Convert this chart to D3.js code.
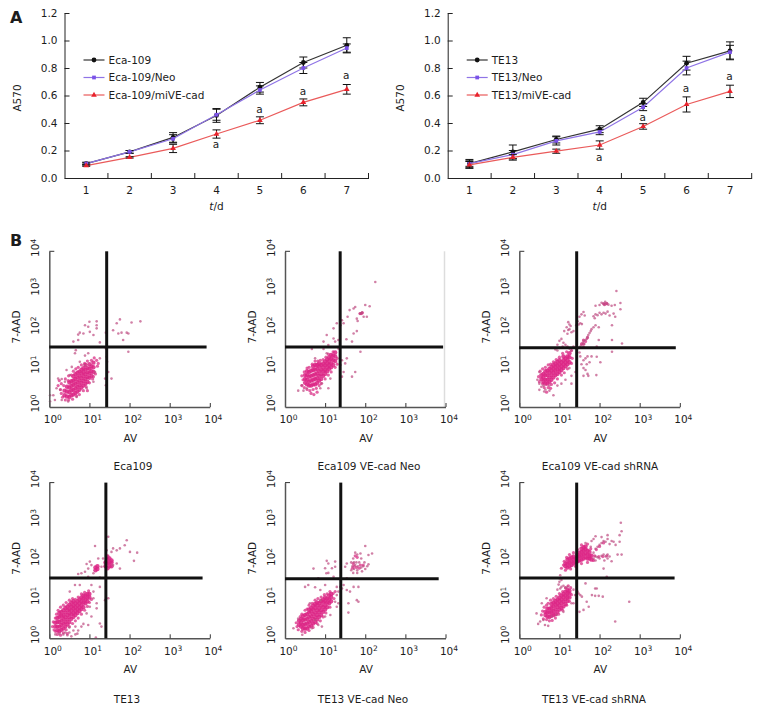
<!DOCTYPE html>
<html>
<head>
<meta charset="utf-8">
<script src="https://cdn.jsdelivr.net/npm/d3@7"></script>
<style>
body { margin: 0; background: #fff; }
text { font-family: "DejaVu Sans", Verdana, sans-serif; fill: #1c1c1c; }
</style>
</head>
<body>
<div id="chart"></div>
<script>
const days = ["1", "2", "3", "4", "5", "6", "7"];
const a570Ticks = [0, 0.2, 0.4, 0.6, 0.8, 1.0, 1.2];

// panel A, left
const eca109 = [0.105, 0.19, 0.295, 0.455, 0.66, 0.84, 0.965];
const eca109Err = [0.01, 0.01, 0.035, 0.05, 0.035, 0.04, 0.055];
const eca109Neo = [0.105, 0.19, 0.285, 0.46, 0.64, 0.80, 0.945];
const eca109NeoErr = [0.005, 0.01, 0.03, 0.04, 0.03, 0.04, 0.03];
const eca109Mi = [0.09, 0.15, 0.215, 0.32, 0.42, 0.55, 0.645];
const eca109MiErr = [0.005, 0.005, 0.03, 0.03, 0.025, 0.025, 0.035];
const eca109Sig = [[3, 0.247], [4, 0.50], [5, 0.633], [6, 0.749]];

// panel A, right
const te13 = [0.105, 0.19, 0.28, 0.355, 0.55, 0.835, 0.925];
const te13Err = [0.03, 0.05, 0.025, 0.025, 0.03, 0.05, 0.065];
const te13Neo = [0.105, 0.17, 0.27, 0.335, 0.515, 0.80, 0.915];
const te13NeoErr = [0.02, 0.03, 0.03, 0.02, 0.025, 0.05, 0.05];
const te13Mi = [0.095, 0.15, 0.195, 0.24, 0.375, 0.535, 0.63];
const te13MiErr = [0.025, 0.02, 0.015, 0.03, 0.02, 0.055, 0.045];
const te13Sig = [[3, 0.153], [4, 0.444], [5, 0.655], [6, 0.742]];

const decades = [0, 1, 2, 3, 4];

// panel B, values are log10 of AV and 7-AAD
// dense part of each cloud: [log AV, log 7-AAD, log 7-AAD, ...]
const eca109Core = [
  [.38,.3,.42],[.44,.27,.4,.52],[.5,.26,.38,.5,.63],[.55,.3,.43,.54,.66],[.6,.32,.44,.57,.68,.79],
  [.65,.36,.48,.6,.72,.84],[.7,.4,.52,.64,.76,.88],[.75,.44,.56,.68,.8,.91],[.8,.5,.62,.74,.86,.96],
  [.85,.55,.67,.79,.9,1.0],[.9,.6,.72,.84,.96,1.08],[.95,.65,.77,.89,1.0],[1.0,.75,.87,.98,1.1],
  [1.05,.8,.92,1.04],[1.1,.9,1.02,1.14]
];
const eca109Fringe = [
  [.28,.45],[.3,.6],[.36,.55],[.4,.72],[.47,.68],[.48,.8],[.55,.82],[.6,.92],[.66,.98],[.72,1.02],[.8,1.08],[.88,1.12],[.95,1.18],[1.05,1.2],[1.12,1.26],[1.18,1.2],[1.2,1.05],
  [1.15,.85],[1.08,.72],[1,.62],[.92,.52],[.85,.42],[.75,.32],[.68,.28],[.58,.2],[.48,.18],[.4,.18],[.33,.25],[.3,.35],[.22,.55],[.25,.68],[1.22,1.12],[1.1,.78],[.95,.42]
];
const eca109Sparse = [
  [1,2.19],[1.18,2.2],[1.18,2.1],[.97,2.06],[1.01,1.93],[.76,1.91],[.72,1.86],[.85,1.89],[1.1,1.85],[.6,1.68],[.72,1.72],[1.26,1.66],[1.18,2.02],[.89,2.1],
  [1.76,2.25],[1.68,2.15],[2.05,2.17],[2.27,2.2],[1.59,1.97],[1.72,1.89],[1.93,1.91],[1.97,1.89],[1.84,1.72],[1.8,1.91],[1.41,1.91],
  [.66,1.46],[.64,1.38],[.97,1.38],[.89,1.32],[1.43,1.29],[1.41,1.5],[1.97,1.42],
  [1.47,.9],[1.55,.73],[1.39,.73],[1.41,.56],[1.44,1.16],
  [.02,.3],[.02,.14],[.22,.73],[.31,.72],[.43,.95],[.56,1.03],[.76,1.16],[.14,.18],[.1,.3],[.27,.44],[.31,.18],[.47,.14],[.68,.26],[.93,.48],[1.1,.65],[1.14,.9],[.18,.48],[.39,.65],[.51,.82],[.89,1.08],[1.26,1.25]
];
const eca109NeoCore = [
  [.5,.62,.72,.82],[.55,.58,.7,.82,.92],[.6,.55,.65,.78,.9],[.65,.55,.68,.8,.93],[.7,.58,.7,.82,.95,1.05],
  [.75,.58,.72,.84,.96,1.08],[.8,.62,.74,.86,.98,1.08],[.85,.68,.8,.92,1.04,1.12],[.9,.72,.84,.96,1.08],
  [.95,.8,.92,1.02,1.12],[1.0,.85,.95,1.07,1.17],[1.05,.92,1.02,1.12,1.22],[1.1,.98,1.08,1.18,1.28],
  [1.15,1.02,1.12,1.24,1.34],[1.2,1.08,1.2,1.32],[1.25,1.18,1.3,1.4]
];
const eca109NeoFringe = [
  [.42,.55],[.45,.7],[.42,.8],[.48,.9],[.55,1.0],[.6,1.02],[.68,1.1],[.75,1.18],[.82,1.18],[.88,1.2],[.95,1.22],[1.02,1.28],[1.08,1.36],[1.2,1.42],[1.3,1.25],[1.3,1.1],
  [1.25,1.02],[1.15,.9],[1.08,.82],[1,.72],[.9,.6],[.85,.55],[.78,.48],[.7,.45],[.62,.42],[.55,.45],[.48,.5],[.8,.38],[.65,.35],[.72,.32],[1.9,2.4],[1.93,2.42],[1.87,2.4]
];
const eca109NeoSparse = [
  [2.25,3.21],[2,2.62],[2.11,2.59],[1.75,2.57],[1.71,2.53],[1.61,2.49],[1.56,2.32],[1.87,2.4],[1.92,2.43],[1.9,2.41],[1.96,2.32],[2.04,2.32],[1.79,2.27],[1.81,2.21],
  [1.42,2.23],[1.38,2.1],[1.29,2.15],[1.46,2.15],[1.71,1.89],[1.79,1.95],[1.21,2.02],[1.04,1.85],[1.21,1.76],[1.33,1.72],[1.53,1.74],[.96,1.68],[1.08,1.59],[1.25,1.68],[1.67,1.68],
  [1.88,1.42],[.67,1.49],[.96,1.49],[1.33,1.5],[1.54,1.25],[1.42,1.2],[1.5,1.12],[1.38,1.08],[1.46,.9],[1.75,.9],[1.67,.78],[1.42,.78],
  [.33,.42],[.46,.42],[.42,.56],[.54,.48],[.88,.48],[1.08,.48],[.92,.61],[.75,1.25],[1.04,1.38],[1.13,.73]
];
const eca109ShCore = [
  [.55,.72,.82],[.6,.65,.75,.85],[.65,.6,.7,.82,.92],[.7,.6,.7,.82,.93],[.75,.65,.76,.88,.98],[.8,.7,.82,.93,1.03],
  [.85,.76,.88,.98,1.08],[.9,.82,.93,1.03,1.12],[.95,.85,.96,1.06,1.16],[1.0,.9,1.0,1.1,1.2],[1.05,.95,1.05,1.15],
  [1.1,1.0,1.1,1.2,1.3],[1.15,1.05,1.15,1.25],[1.2,1.1,1.2,1.3],[1.25,1.15,1.28,1.38]
];
const eca109ShFringe = [
  [.5,.65],[.48,.78],[.52,.92],[.58,.98],[.65,1.02],[.72,1.08],[.78,1.1],[.85,1.16],[.92,1.22],[1,1.28],[1.08,1.38],[1.18,1.42],[1.3,1.45],[1.32,1.25],[1.3,1.12],[1.2,.98],
  [1.12,.88],[1.05,.82],[.95,.72],[.88,.62],[.8,.58],[.72,.5],[.62,.5],[.58,.6],[.68,.38],[.78,.48],
  [1.6,1.62],[1.6,1.72],[1.65,1.68],[1.7,1.78],[1.55,1.62],[2.1,2.65],[2.18,2.66],[2.14,2.64]
];
const eca109ShSparse = [
  [2,2.62],[2.05,2.68],[2.1,2.66],[2.14,2.7],[2.18,2.66],[2.22,2.63],[2.3,2.6],[2.38,2.62],[2.12,2.62],[1.9,2.6],[2.42,2.98],[2.52,2.67],[2.52,2.51],[2.35,2.4],[2.39,2.32],
  [1.85,2.33],[1.9,2.38],[1.95,2.36],[2,2.42],[2.05,2.38],[2.1,2.42],[2.15,2.4],[2.2,2.45],[1.88,2.28],[2.25,2.35],
  [1.6,2.44],[1.55,2.38],[1.63,2.35],[1.5,2.32],[1.56,2.13],[1.52,2.15],[1.48,2.12],[1.45,2.2],[1.42,2.1],[1.28,2.08],[1.25,2.12],[1.22,2.18],[1.18,2.05],[1.22,1.98],[1.25,2],[1.3,1.92],[1.2,1.88],[1.35,1.95],[1.12,1.95],
  [1.05,1.75],[1,1.7],[1.1,1.65],[1.15,1.6],[1.08,1.55],[.95,1.6],[1,1.52],[1.2,1.55],[1.25,1.5],[.9,1.48],[.95,1.45],[1.3,1.45],[1.35,1.55],
  [1.55,1.6],[1.58,1.65],[1.6,1.7],[1.62,1.62],[1.65,1.72],[1.68,1.75],[1.7,1.8],[1.72,1.85],[1.75,1.9],[1.52,1.55],[1.6,1.55],[1.78,1.95],[1.8,2],[1.85,2.05],[1.9,2.1],[1.98,2.05],[2.31,2.1],[2.31,1.72],[2.56,1.63],[2.31,1.42],[2.02,1.15],[1.93,1.29],[1.98,1.72],[1.93,1.55],
  [1.52,1.3],[1.6,1.2],[1.65,1.25],[1.7,1.3],[1.55,1.1],[1.6,1],[1.65,.95],[1.7,.85],[1.68,1.1],[1.75,1.15],[1.8,1.3],[1.72,.8],[1.6,.8],[1.92,.82],[1.5,1.4],
  [.5,.44],[.55,.52],[.5,.6],[.62,.4],[.65,.45],[.75,.42],[.85,.3],[.6,.55],[.75,.55],[.95,.55],[1.05,.6],[1.15,.7],[1.3,.8],[1.4,.9],[1.3,.6],[1.25,1],[.45,.7],[.5,.9]
];
const te13Core = [
  [.15,.3,.4],[.2,.2,.3,.42,.52],[.25,.18,.3,.42,.55,.65],[.3,.22,.34,.46,.58,.68],[.35,.25,.38,.5,.6,.72],[.4,.3,.42,.54,.66,.78],
  [.45,.36,.48,.6,.72,.82],[.5,.42,.54,.65,.75,.86],[.55,.5,.62,.72,.82,.92],[.6,.55,.65,.76,.85,.95],[.65,.6,.7,.8,.9],[.7,.65,.75,.85,.95],
  [.75,.7,.8,.9,1.0],[.8,.75,.85,.95,1.05],[.85,.8,.92,1.02,1.1],[.9,.9,1.0,1.1],[.95,.95,1.05,1.14],[1.0,1.05,1.14],
  [1.15,1.75,1.82],[1.2,1.78,1.85],[1.4,1.85,1.95],[1.45,1.8,1.92,2.02,2.1],[1.5,1.85,1.95,2.05],[1.55,1.85,1.95,2.0]
];
const te13Fringe = [
  [.08,.3],[.1,.42],[.12,.22],[.15,.52],[.18,.62],[.22,.72],[.28,.8],[.35,.85],[.42,.92],[.5,.98],[.58,1.02],[.65,1],[.72,1.06],[.8,1.14],[.88,1.18],[.98,1.22],
  [1.05,1],[1,.92],[.95,.82],[.88,.72],[.8,.62],[.72,.52],[.65,.45],[.58,.38],[.5,.3],[.42,.22],[.35,.14],[.28,.08],[.2,.1],[.15,.18],[.45,.12]
];
const te13Sparse = [
  [1.93,2.52],[1.76,2.31],[1.68,2.26],[1.88,2.39],[2.01,2.22],[2.19,2.2],[2.11,1.99],[1.47,2.61],[1.14,2.37],[1.59,2.31],[1.55,2.22],[1.43,2.26],[1.34,2.05],[1.22,2.05],[1.01,1.97],[.93,1.91],[.97,1.79],[1.05,1.88],[1.3,1.84],[1.68,1.92],[1.76,1.79],[1.59,1.88],
  [.8,1.67],[.72,1.65],[.89,1.71],[1.1,1.67],[.97,1.58],[1.26,1.56],[.64,1.37],[.51,1.2],[.76,1.37],[1.05,1.37],[1.26,1.32],[1.1,1.2],[1.47,1.03],[1.39,.98],
  [1.18,.9],[1.1,1.03],[1.18,.77],[1.01,.81],[.93,.64],[1.05,.56],[.85,.37],[.97,.34],[1.26,.38],[1.3,.3],[1.16,.02],
  [.35,.1],[.45,.08],[.5,.15],[.55,.05],[.65,.1],[.7,.12],[.72,.2],[.4,.15],[.6,.2],[.15,.1],[.25,.12],[.8,.3],[.65,.3],[.5,.28]
];
const te13NeoCore = [
  [.35,.35,.45],[.4,.3,.4,.5],[.45,.25,.35,.47,.57],[.5,.25,.36,.48,.6],[.55,.25,.38,.5,.62],[.6,.3,.42,.54,.66,.74],[.65,.33,.45,.57,.69,.78],
  [.7,.38,.5,.62,.74,.84],[.75,.42,.54,.66,.78,.88],[.8,.48,.6,.72,.84,.92],[.85,.55,.67,.78,.9],[.9,.6,.72,.84,.95],[.95,.68,.8,.92,1.0],
  [1.0,.74,.85,.96,1.05],[1.05,.8,.92,1.02],[1.1,.9,1.0,1.1],[1.15,.95,1.06,1.14]
];
const te13NeoFringe = [
  [.28,.4],[.3,.3],[.33,.22],[.38,.56],[.42,.62],[.5,.72],[.55,.75],[.6,.85],[.68,.9],[.75,.98],[.82,1.02],[.9,1.06],[.98,1.12],[1.05,1.14],[1.12,1.2],[1.2,1.15],[1.22,1.02],
  [1.12,.8],[1.02,.65],[.95,.55],[.88,.45],[.8,.38],[.7,.28],[.6,.2],[.5,.15],[.42,.18],[1.25,1.2],
  [1.68,1.8],[1.72,1.85],[1.78,1.82],[1.85,1.8],[1.95,1.88],[1.88,1.88],[1.7,1.92],[1.8,2.08],[1.75,2.12]
];
const te13NeoSparse = [
  [1.65,1.75],[1.68,1.85],[1.65,1.95],[1.7,2.05],[1.72,1.78],[1.75,1.88],[1.75,2.2],[1.8,1.75],[1.82,1.85],[1.8,2.15],[1.85,1.95],[1.88,2.18],[1.9,1.82],[1.92,1.72],[1.95,1.85],[1.98,1.95],[2,1.78],[2.05,1.85],[2.08,1.9],[1.9,2.05],[1.7,1.68],[1.8,1.68],[1.72,1.95],[1.78,1.95],
  [2,2.37],[2.17,2.18],[2.08,2.14],[1.04,1.99],[1.25,1.97],[1.08,1.92],[1,1.8],[1.17,1.8],[1.25,1.84],[1.08,1.68],[1.03,1.67],[.71,1.79],[1.21,1.58],[1.5,1.84],[1.54,1.92],
  [.83,1.54],[1.54,1.54],[.5,1.32],[.58,1.37],[.88,1.24],[.75,1.31],[1,1.37],[1.29,1.32],[1.38,1.32],[1.46,1.37],[1.42,1.28],[1.33,1.2],[1.29,1.11],[1.71,1.32],[1.83,1.32],[1.54,1.24],[1.62,1.2],[1.79,.98],[1.83,.94],[1.58,.9],[1.58,.66],[1.33,.9],[1.25,.94],
  [.21,.26],[.43,.09],[.67,.26],[.83,.34],[.92,.3],[.75,.47],[1,.56],[1.13,.6],[1.29,.81],[.33,.51],[.62,.9],[.88,.98]
];
const te13ShCore = [
  [.65,.6,.68],[.7,.56,.66,.76],[.75,.55,.66,.76],[.8,.58,.68,.78,.88],[.85,.6,.7,.82,.92],[.9,.62,.74,.86,.96],[.95,.68,.8,.9,1.0],
  [1.0,.74,.85,.96,1.05],[1.05,.78,.9,1.0,1.1],[1.1,.82,.94,1.05,1.14],[1.15,.88,1.0,1.1,1.2],[1.2,.96,1.06,1.16,1.24],[1.25,1.05,1.15,1.22],
  [1.15,1.85,1.92],[1.2,1.82,1.92,2.02],[1.25,1.85,1.95,2.05],[1.3,1.88,1.98,2.08],[1.35,1.92,2.02,2.1],[1.4,1.95,2.05],[1.45,1.98,2.08,2.15],
  [1.5,2.0,2.1,2.2],[1.55,2.02,2.12,2.22,2.3],[1.6,2.05,2.15,2.25,2.34],[1.65,2.08,2.18,2.28,2.36],[1.7,2.05,2.15,2.25],[1.75,2.05,2.12,2.22],[1.8,2.02,2.12]
];
const te13ShFringe = [
  [.55,.6],[.58,.7],[.62,.8],[.68,.85],[.72,.9],[.78,.98],[.85,1.02],[.92,1.08],[1,1.15],[1.08,1.2],[1.15,1.3],[1.22,1.35],[1.28,1.3],[1.3,1.12],[1.25,.95],[1.18,.85],[1.08,.72],[.98,.62],[.9,.52],[.82,.46],[.75,.45],[.68,.48],[.6,.5],
  [1.1,1.88],[1.12,1.98],[1.18,2.08],[1.25,2.15],[1.35,2.2],[1.45,2.28],[1.55,2.4],[1.7,2.42],[1.78,2.3],[1.85,2],[1.7,1.95],[1.55,1.92],[1.4,1.85],[1.28,1.78],[1.15,1.75],[1.05,1.8],
  [1.88,2.12],[1.98,2.1],[2.08,2.1],[2.18,2.12],[1.92,2.28],[2,2.36],[2.1,2.45]
];
const te13ShSparse = [
  [1.85,2.05],[1.9,2.1],[1.95,2.08],[2,2.05],[2.05,2.12],[2.1,2.15],[2.15,2.1],[2.2,2.05],[2.2,2.15],[2.25,2.1],[2.3,1.98],[2.12,2],[1.85,2.2],[1.9,2.3],[1.95,2.35],[2,2.4],[2.05,2.45],[2.1,2.5],[2.15,2.48],[2.2,2.55],[2.25,2.42],[2.3,2.5],[2.35,2.48],[2.4,2.4],[2.5,2.48],[2.45,2.15],[2.55,2.15],[1.8,2.5],[1.85,2.55],[1.9,2.62],[2.05,2.6],[2.2,2.65],[2.5,2.65],[2.55,2.75],[2.53,2.97],[1.9,2],[1.78,2.35],[1.65,2.45],
  [2.1,1.79],[2.18,1.58],[1.02,1.62],[1,1.54],[1.05,1.5],[1,1.45],[.98,1.38],[1.02,1.28],[1.05,1.32],[1.1,1.35],[.95,1.25],[1.15,1.3],[1.2,1.32],[1.65,1.41],[1.45,1.2],[1.35,1.25],
  [1.89,1.28],[1.93,1.28],[1.81,1.11],[1.89,1.09],[1.98,1.09],[2.08,1.07],[1.52,1.11],[1.56,1.07],[1.48,1.15],[1.43,1.03],[1.68,.94],[1.73,.81],[1.6,.73],[1.5,.68],[1.35,.9],[1.39,1.11],[2.74,.94],[2.39,.43],
  [.43,.64],[.47,.37],[.52,.43],[.6,.47],[.72,.32],[.64,.34],[.81,.56],[.93,.6],[1.1,.68],[1.3,.9],[.68,1.03],[.56,.9]
];

const seriesStyles = [
  {color: "#111111", line: "#333333", symbol: d3.symbolCircle, size: 18},
  {color: "#7b52e8", line: "#8f74e6", symbol: d3.symbolSquare, size: 14},
  {color: "#e8222c", line: "#ea5a5a", symbol: d3.symbolTriangle, size: 14}
];

const svg = d3.select("#chart").append("svg")
    .attr("width", 762)
    .attr("height", 709);

const fs = "10.5px";

function drawLines(x0, labelX, series, sig) {
    const x = d3.scaleBand().domain(days).range([x0, x0 + 304]).padding(0);
    const y = d3.scaleLinear().domain([0, 1.2]).range([178, 13]);
    const g = svg.append("g");

    const xAxis = g.append("g").attr("transform", "translate(0,178)")
        .call(d3.axisBottom(x).tickSize(0).tickPadding(9));
    xAxis.selectAll("text").attr("font-size", fs).attr("font-family", null);
    xAxis.select(".domain").attr("stroke", "#222");
    // ticks sit between the days
    g.append("g").selectAll("line")
        .data(days)
        .enter().append("line")
        .attr("x1", d => x(d) + x.bandwidth())
        .attr("x2", d => x(d) + x.bandwidth())
        .attr("y1", 178)
        .attr("y2", 173)
        .attr("stroke", "#222");

    const yAxis = g.append("g").attr("transform", "translate(" + x0 + ",0)")
        .call(d3.axisLeft(y).tickValues(a570Ticks).tickFormat(d3.format(".1f")).tickSizeInner(-5).tickSizeOuter(0).tickPadding(7));
    yAxis.selectAll("text").attr("font-size", fs).attr("font-family", null);
    yAxis.selectAll("line, path").attr("stroke", "#222");

    const line = d3.line().x((d, i) => x(days[i]) + x.bandwidth() / 2).y(d => y(d));

    series.forEach(function(s, k) {
        const st = seriesStyles[k];
        g.append("path")
            .attr("d", line(s.values))
            .attr("fill", "none")
            .attr("stroke", st.line)
            .attr("stroke-width", 1.2);

        const bars = g.append("g").selectAll("g")
            .data(s.values)
            .enter().append("g")
            .attr("transform", (d, i) => "translate(" + (x(days[i]) + x.bandwidth() / 2) + ",0)")
            .attr("stroke", "#111");
        bars.append("line").attr("y1", (d, i) => y(d - s.err[i])).attr("y2", (d, i) => y(d + s.err[i]));
        bars.append("line").attr("x1", -4).attr("x2", 4).attr("y1", (d, i) => y(d - s.err[i])).attr("y2", (d, i) => y(d - s.err[i]));
        bars.append("line").attr("x1", -4).attr("x2", 4).attr("y1", (d, i) => y(d + s.err[i])).attr("y2", (d, i) => y(d + s.err[i]));

        g.append("g").selectAll("path")
            .data(s.values)
            .enter().append("path")
            .attr("d", d3.symbol().type(st.symbol).size(st.size))
            .attr("transform", (d, i) => "translate(" + (x(days[i]) + x.bandwidth() / 2) + "," + y(d) + ")")
            .attr("fill", st.color);

        // legend
        const ly = 60 + k * 17.5;
        g.append("line")
            .attr("x1", x0 + 19).attr("x2", x0 + 40)
            .attr("y1", ly).attr("y2", ly)
            .attr("stroke", st.line).attr("stroke-width", 1.2);
        g.append("path")
            .attr("d", d3.symbol().type(st.symbol).size(st.size))
            .attr("transform", "translate(" + (x0 + 29.5) + "," + ly + ")")
            .attr("fill", st.color);
        g.append("text")
            .attr("x", x0 + 44)
            .attr("y", ly)
            .attr("dy", ".35em")
            .attr("font-size", fs)
            .text(s.name);
    });

    g.append("g").selectAll("text")
        .data(sig)
        .enter().append("text")
        .attr("x", d => x(days[d[0]]) + x.bandwidth() / 2 - 0.5)
        .attr("y", d => y(d[1]))
        .attr("dy", ".35em")
        .attr("text-anchor", "middle")
        .attr("font-size", fs)
        .text("a");

    g.append("text")
        .attr("transform", "translate(" + labelX + ",98) rotate(-90)")
        .attr("text-anchor", "middle")
        .attr("dy", ".35em")
        .attr("font-size", fs)
        .text("A570");

    const xLabel = g.append("text")
        .attr("x", x0 + 152)
        .attr("y", 206)
        .attr("dy", ".35em")
        .attr("text-anchor", "middle")
        .attr("font-size", fs);
    xLabel.append("tspan").attr("font-style", "italic").text("t");
    xLabel.append("tspan").text("/d");
}

drawLines(64.5, 17, [
    {name: "Eca-109", values: eca109, err: eca109Err},
    {name: "Eca-109/Neo", values: eca109Neo, err: eca109NeoErr},
    {name: "Eca-109/miVE-cad", values: eca109Mi, err: eca109MiErr}
], eca109Sig);

drawLines(447.7, 400.5, [
    {name: "TE13", values: te13, err: te13Err},
    {name: "TE13/Neo", values: te13Neo, err: te13NeoErr},
    {name: "TE13/miVE-cad", values: te13Mi, err: te13MiErr}
], te13Sig);

function powerLabel(sel, rotate) {
    sel.each(function(d) {
        const t = d3.select(this).text("").attr("font-size", fs).attr("font-family", null);
        t.append("tspan").text("10");
        t.append("tspan").attr("dy", "-0.45em").attr("font-size", "7.5px").text(d);
        if (rotate) t.attr("transform", "rotate(-90)");
    });
}

function drawDots(g, dots, x, y, r, color, opacity) {
    g.append("g").selectAll("circle")
        .data(dots)
        .enter().append("circle")
        .attr("cx", d => x(d[0]))
        .attr("cy", d => y(d[1]))
        .attr("r", r)
        .attr("fill", color)
        .attr("fill-opacity", opacity);
}

function drawFlow(p) {
    const x = d3.scaleLinear().domain([0, 4]).range([p.x0, p.x0 + 160.5]);
    const y = d3.scaleLinear().domain([0, 4]).range([p.bottom, p.bottom - 155.7]);
    const g = svg.append("g");

    const dots = p.core.flatMap(r => r.slice(1).map(v => [r[0], v]));
    drawDots(g, p.fringe, x, y, 1.6, "#d92f86", 0.75);
    drawDots(g, dots, x, y, 2.2, "#dc2585", 0.85);
    drawDots(g, p.sparse, x, y, 1.3, "#bd4a80", 0.7);

    if (p.rightEdge) {
        g.append("line")
            .attr("x1", x(4) - 1).attr("x2", x(4) - 1)
            .attr("y1", y(4)).attr("y2", y(0))
            .attr("stroke", "#ddd").attr("stroke-width", 1.5);
    }

    const xAxis = g.append("g").attr("transform", "translate(0," + p.bottom + ")")
        .call(d3.axisBottom(x).tickValues(decades).tickSizeInner(-4).tickSizeOuter(0).tickPadding(9));
    xAxis.selectAll(".tick text").call(powerLabel, false).attr("dx", 3);
    xAxis.selectAll("line").attr("stroke", "#333");
    xAxis.select(".domain").attr("stroke", "#555").attr("stroke-width", 1.5);

    const yAxis = g.append("g").attr("transform", "translate(" + p.x0 + ",0)")
        .call(d3.axisLeft(y).tickValues(decades).tickSize(0).tickPadding(0));
    yAxis.selectAll(".tick text").call(powerLabel, true)
        .attr("x", 4).attr("y", -10).attr("dy", null)
        .attr("text-anchor", "middle");
    yAxis.select(".domain").attr("stroke", "#555").attr("stroke-width", 1.5);
    g.append("line")
        .attr("x1", p.x0).attr("x2", p.x0 + 5)
        .attr("y1", y(4)).attr("y2", y(4))
        .attr("stroke", "#333");

    // quadrant gates
    g.append("line")
        .attr("x1", x(p.gateX)).attr("x2", x(p.gateX))
        .attr("y1", y(4)).attr("y2", y(0))
        .attr("stroke", "#111").attr("stroke-width", 3);
    g.append("line")
        .attr("x1", x(0)).attr("x2", x(p.gateEnd))
        .attr("y1", y(p.gateY)).attr("y2", y(p.gateY))
        .attr("stroke", "#111").attr("stroke-width", 3);

    g.append("text")
        .attr("x", p.x0 + 81)
        .attr("y", p.bottom + 31)
        .attr("dy", ".35em")
        .attr("text-anchor", "middle")
        .attr("font-size", fs)
        .text("AV");
    g.append("text")
        .attr("transform", "translate(" + (p.x0 - 32.6) + "," + (p.bottom - 80) + ") rotate(-90)")
        .attr("dy", ".35em")
        .attr("text-anchor", "middle")
        .attr("font-size", fs)
        .text("7-AAD");
    g.append("text")
        .attr("x", p.titleX)
        .attr("y", p.titleY)
        .attr("dy", ".35em")
        .attr("text-anchor", "middle")
        .attr("font-size", fs)
        .text(p.title);
}

[
    {title: "Eca109", titleX: 133, titleY: 466, x0: 49.3, bottom: 407, gateX: 1.43, gateY: 1.54, gateEnd: 3.92, core: eca109Core, fringe: eca109Fringe, sparse: eca109Sparse},
    {title: "Eca109 VE-cad Neo", titleX: 369, titleY: 466, x0: 285, bottom: 407, gateX: 1.375, gateY: 1.54, gateEnd: 3.94, core: eca109NeoCore, fringe: eca109NeoFringe, sparse: eca109NeoSparse, rightEdge: true},
    {title: "Eca109 VE-cad shRNA", titleX: 600, titleY: 466, x0: 519.3, bottom: 407, gateX: 1.43, gateY: 1.52, gateEnd: 3.9, core: eca109ShCore, fringe: eca109ShFringe, sparse: eca109ShSparse},
    {title: "TE13", titleX: 127, titleY: 699, x0: 49.3, bottom: 638.3, gateX: 1.41, gateY: 1.546, gateEnd: 3.82, core: te13Core, fringe: te13Fringe, sparse: te13Sparse},
    {title: "TE13 VE-cad Neo", titleX: 363, titleY: 699, x0: 285, bottom: 638.3, gateX: 1.39, gateY: 1.53, gateEnd: 3.83, core: te13NeoCore, fringe: te13NeoFringe, sparse: te13NeoSparse},
    {title: "TE13 VE-cad shRNA", titleX: 594, titleY: 699, x0: 519.3, bottom: 638.3, gateX: 1.43, gateY: 1.546, gateEnd: 3.87, core: te13ShCore, fringe: te13ShFringe, sparse: te13ShSparse}
].forEach(drawFlow);

svg.append("text").attr("x", 10).attr("y", 23).attr("font-size", "16px").attr("font-weight", "bold").attr("fill", "#111").text("A");
svg.append("text").attr("x", 10).attr("y", 246).attr("font-size", "16px").attr("font-weight", "bold").attr("fill", "#111").text("B");
</script>
</body>
</html>
